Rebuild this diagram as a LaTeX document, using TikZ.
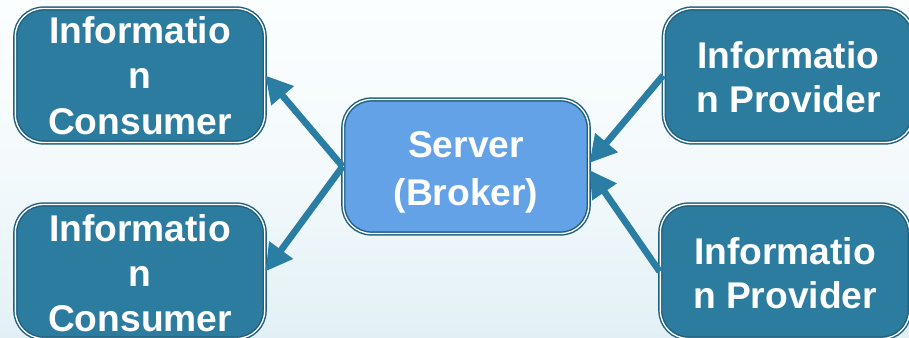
\documentclass[tikz,border=0pt]{standalone}
\usepackage{fontspec}
\setmainfont{Liberation Sans}
\usetikzlibrary{arrows.meta,calc}
\definecolor{boxfill}{HTML}{2C7CA0}
\definecolor{boxedge}{HTML}{20607F}
\definecolor{srvfill}{HTML}{63A2E6}
\definecolor{arrowc}{HTML}{2A7EA3}
\definecolor{bgtop}{HTML}{FBFEFF}
\definecolor{bgbot}{HTML}{E2F0F5}
\newcommand\dnshift[2]{\raisebox{-#1}[\height][\depth]{#2}}
\tikzset{
  px/.style={x=0.75pt,y=-0.75pt},
  infobox/.style={draw=boxedge,double=white,double distance=1pt,line width=1.1pt,fill=#1,
    rounded corners=21pt,minimum width=187pt,minimum height=100.5pt,inner sep=0pt,
    align=center,text=white,font=\fontsize{27.9}{34}\selectfont\bfseries},
  infobox/.default=boxfill,
  link/.style={draw=arrowc,line width=5pt,-{Triangle[length=20pt,width=21pt]}}
}
\begin{document}
\begin{tikzpicture}[px]
\useasboundingbox (0,0) rectangle (909,338);
\clip (0,0) rectangle (909,338);
\shade[top color=bgtop,bottom color=bgbot,middle color=bgtop!70!bgbot] (0,0) rectangle (909,338);
\node[infobox] (c1) at (140,75.5) {Informatio\\n\\Consumer};
\node[infobox] (c2) at (140,271.5) {\dnshift{1.5pt}{Informatio}\\\dnshift{1.5pt}{n}\\\dnshift{0.75pt}{Consumer}};
\node[infobox] (p1) at (788.5,75.5) {\dnshift{1.5pt}{Informatio}\\\dnshift{0.75pt}{n Provider}};
\node[infobox] (p2) at (785,271.5) {\dnshift{1.5pt}{Informatio}\\\dnshift{0.75pt}{n Provider}};
\node[infobox=srvfill,minimum width=184pt] (s) at (466,166.5) {\dnshift{3.75pt}{Server}\\\dnshift{5.25pt}{(Broker)}};
\coordinate (sa) at ($(s.east)+(0,-3.5)$);
\coordinate (sb) at ($(s.east)+(0,3.5)$);
\draw[link] (s.west) -- (c1.east);
\draw[link] (s.west) -- (c2.east);
\draw[link] (p1.west) -- (sa);
\draw[link] (p2.west) -- (sb);
\end{tikzpicture}
\end{document}
